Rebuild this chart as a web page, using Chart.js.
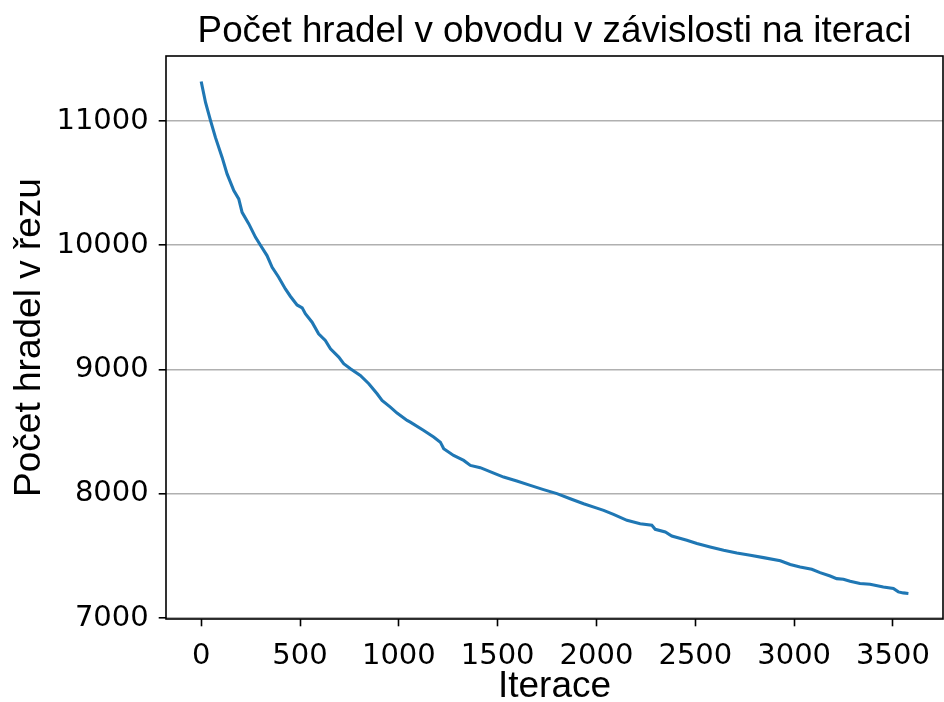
<!DOCTYPE html>
<html>
<head>
<meta charset="utf-8">
<script src="https://cdn.jsdelivr.net/npm/chart.js@4.4.1/dist/chart.umd.min.js"></script>
<style>
html,body{margin:0;padding:0;background:#fff;}
canvas{display:block;}
</style>
</head>
<body>
<canvas id="c" width="944" height="702"></canvas>
<script>
const titleText = "Počet hradel v obvodu v závislosti na iteraci";
const xLabel = "Iterace";
const yLabel = "Počet hradel v řezu";
const xTicks = [0, 500, 1000, 1500, 2000, 2500, 3000, 3500];
const yTicks = [7000, 8000, 9000, 10000, 11000];
const iterations = [0, 22, 47, 72, 106, 131, 165, 190, 207, 241, 275, 300, 333, 359, 392, 426, 451, 485, 511, 527,
  561, 594, 628, 654, 696, 721, 755, 805, 848, 890, 915, 957, 991, 1042, 1058, 1126, 1176, 1210, 1227, 1277,
  1328, 1362, 1412, 1480, 1530, 1597, 1665, 1732, 1800, 1867, 1935, 2002, 2036, 2086, 2154, 2221, 2280, 2297, 2348, 2381,
  2457, 2508, 2575, 2643, 2710, 2778, 2845, 2930, 2980, 3030, 3089, 3131, 3182, 3215, 3249, 3283, 3333, 3384, 3451, 3502,
  3527, 3552, 3578];
const gateCounts = [11318, 11149, 11005, 10868, 10707, 10574, 10440, 10373, 10265, 10172, 10064, 10000, 9917, 9823, 9743, 9649, 9590, 9520, 9497, 9449,
  9381, 9288, 9234, 9167, 9100, 9047, 9006, 8953, 8886, 8805, 8752, 8698, 8650, 8591, 8577, 8510, 8457, 8416, 8363, 8309,
  8269, 8229, 8211, 8167, 8135, 8103, 8068, 8034, 8002, 7961, 7921, 7885, 7867, 7835, 7787, 7760, 7747, 7715, 7693, 7661,
  7626, 7600, 7573, 7546, 7524, 7506, 7487, 7462, 7431, 7412, 7393, 7366, 7339, 7318, 7313, 7297, 7278, 7272, 7251, 7238,
  7211, 7203, 7198];

const points = iterations.map((x, i) => ({x: x, y: gateCounts[i]}));

const frame = {
  id: 'frame',
  afterDatasetsDraw(chart) {
    const a = chart.chartArea, ctx = chart.ctx;
    ctx.save();
    ctx.strokeStyle = '#000';
    ctx.lineWidth = 1.6;
    ctx.strokeRect(a.left, a.top, a.right - a.left, a.bottom - a.top);
    ctx.restore();
  },
  afterDraw(chart) {
    const a = chart.chartArea, ctx = chart.ctx;
    ctx.save();
    ctx.fillStyle = '#000';
    ctx.font = '36.8px "Liberation Sans", Arial, sans-serif';
    ctx.textAlign = 'center';
    ctx.textBaseline = 'middle';
    ctx.fillText(titleText, (a.left + a.right) / 2, 32);
    ctx.restore();
  }
};

new Chart(document.getElementById('c'), {
  type: 'line',
  data: {
    datasets: [{
      data: points,
      borderColor: '#1f77b4',
      borderWidth: 3.1,
      pointRadius: 0,
      tension: 0,
      fill: false
    }]
  },
  options: {
    responsive: false,
    animation: false,
    layout: {padding: {left: 0, right: 1, top: 56, bottom: 0}},
    plugins: {
      legend: {display: false},
      tooltip: {enabled: false},
      title: {display: false}
    },
    scales: {
      x: {
        type: 'linear',
        min: -178,
        max: 3753,
        afterBuildTicks: s => { s.ticks = xTicks.map(v => ({value: v})); },
        afterFit: s => { s.height = 83; },
        grid: {drawOnChartArea: false, drawTicks: true, tickLength: 7.3, tickColor: '#000', tickWidth: 1.6},
        border: {display: false},
        ticks: {
          color: '#000',
          font: {family: 'DejaVu Sans', size: 29},
          padding: 13,
          maxRotation: 0,
          autoSkip: false,
          callback: v => String(v)
        },
        title: {
          display: true,
          text: xLabel,
          color: '#000',
          font: {family: 'Liberation Sans, Arial, sans-serif', size: 37, lineHeight: 0.8},
          padding: {top: 0, bottom: 0}
        }
      },
      y: {
        type: 'linear',
        min: 6993,
        max: 11523,
        afterBuildTicks: s => { s.ticks = yTicks.map(v => ({value: v})); },
        afterFit: s => { s.width = 166; },
        grid: {color: '#b0b0b0', lineWidth: 1.6, drawTicks: true, tickLength: 7.3, tickColor: '#000', tickWidth: 1.6},
        border: {display: false},
        ticks: {
          color: '#000',
          font: {family: 'DejaVu Sans', size: 29},
          padding: 10,
          autoSkip: false,
          callback: v => String(v)
        },
        title: {
          display: true,
          text: yLabel,
          color: '#000',
          font: {family: 'Liberation Sans, Arial, sans-serif', size: 37, lineHeight: 1.2},
          padding: {top: 8, bottom: 0}
        }
      }
    }
  },
  plugins: [frame]
});
</script>
</body>
</html>
